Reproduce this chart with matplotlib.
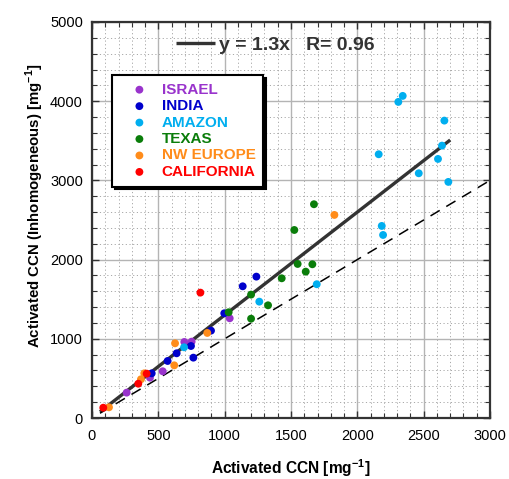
import matplotlib
matplotlib.use("Agg")
import matplotlib.pyplot as plt
import numpy as np
from matplotlib.ticker import MultipleLocator

plt.rcParams['font.family'] = ['Liberation Sans', 'DejaVu Sans']
plt.rcParams['mathtext.fontset'] = 'custom'
plt.rcParams['mathtext.rm'] = 'Liberation Sans:bold'
plt.rcParams['mathtext.bf'] = 'Liberation Sans:bold'

groups = ['ISRAEL', 'INDIA', 'AMAZON', 'TEXAS', 'NW EUROPE', 'CALIFORNIA']
colors = ['#9933CC', '#0000CC', '#00AEEF', '#0A7D0A', '#FF8C1A', '#FF0000']

israel_x = [261, 437, 533, 696, 751, 1038]
israel_y = [320, 509, 590, 960, 964, 1259]
india_x = [450, 570, 638, 746, 764, 897, 997, 1136, 1239]
india_y = [564, 720, 817, 909, 762, 1103, 1322, 1663, 1785]
amazon_x = [694, 1261, 1694, 2161, 2184, 2194, 2309, 2342, 2463, 2608, 2638, 2656, 2686]
amazon_y = [893, 1469, 1689, 3330, 2425, 2311, 3991, 4067, 3090, 3271, 3439, 3755, 2981]
texas_x = [1030, 1199, 1199, 1327, 1430, 1525, 1550, 1611, 1661, 1673]
texas_y = [1335, 1558, 1254, 1423, 1764, 2374, 1945, 1848, 1941, 2699]
europe_x = [128, 369, 394, 620, 626, 869, 1827]
europe_y = [135, 489, 564, 665, 943, 1074, 2564]
calif_x = [85, 349, 412, 817]
calif_y = [130, 433, 560, 1583]

xs = [israel_x, india_x, amazon_x, texas_x, europe_x, calif_x]
ys = [israel_y, india_y, amazon_y, texas_y, europe_y, calif_y]

fit_slope = 1.3
fit_range = [60, 2700]
one_to_one_range = [60, 3000]
fit_label = 'y = 1.3x   R= 0.96'

fig = plt.figure(figsize=(5.09, 4.79), dpi=100)
ax = fig.add_axes([92/509, 1-418/479, 398/509, 396/479])

ax.set_xlim(0, 3000)
ax.set_ylim(0, 5000)
ax.xaxis.set_major_locator(MultipleLocator(500))
ax.xaxis.set_minor_locator(MultipleLocator(100))
ax.yaxis.set_major_locator(MultipleLocator(1000))
ax.yaxis.set_minor_locator(MultipleLocator(200))
ax.grid(which='major', color='#b4b4b4', lw=1.0, ls='-', zorder=0)
ax.grid(which='minor', color='#a8a8a8', lw=0.7, ls=(0, (1.2, 2.6)), zorder=0)
ax.set_axisbelow(True)
ax.tick_params(which='both', direction='in', top=True, right=True, color='#333333')
ax.tick_params(which='major', length=5, width=1, labelsize=10.5)
ax.tick_params(which='minor', length=3.5, width=0.8)
ax.tick_params(axis='x', pad=8)
ax.tick_params(axis='y', pad=6.5)
for s in ax.spines.values():
    s.set_linewidth(1.6)
    s.set_color('#333333')

fx = np.array(fit_range, dtype=float)
fit_line, = ax.plot(fx, fit_slope * fx, color='#333333', lw=2.4, zorder=2, solid_capstyle='butt')
ox = np.array(one_to_one_range, dtype=float)
ax.plot(ox, ox, color='black', lw=1.1, ls=(0, (7, 5)), zorder=2)

handles = []
for g, c, x, y in zip(groups, colors, xs, ys):
    h = ax.scatter(x, y, s=32, color=c, edgecolors='none', zorder=3, label=g)
    handles.append(h)

leg = ax.legend(handles=handles, labels=groups, loc='upper left',
                bbox_to_anchor=(0.050, 0.866), borderaxespad=0,
                prop={'weight': 'bold', 'size': 11}, frameon=True, fancybox=False,
                edgecolor='black', framealpha=1, shadow={'color': 'black', 'alpha': 1},
                handlelength=2.6, handletextpad=0.15, labelspacing=0.16,
                borderpad=0.5, scatterpoints=1, markerscale=1.0)
leg.get_frame().set_linewidth(1.5)
for t, c in zip(leg.get_texts(), colors):
    t.set_color(c)
ax.add_artist(leg)

leg2 = ax.legend(handles=[fit_line], labels=[fit_label], loc='center left',
                 bbox_to_anchor=(0.211, 0.942), borderaxespad=0, borderpad=0,
                 frameon=False, handlelength=2.0, handletextpad=0.2,
                 prop={'weight': 'bold', 'size': 14})
for t in leg2.get_texts():
    t.set_color('#333333')

ax.set_xlabel(r'Activated CCN [mg$^{\mathbf{-1}}$]', fontsize=11.2, fontweight='bold', labelpad=10)
fig.text(35/509, 1-206/479, r'Activated CCN (Inhomogeneous) [mg$^{\mathbf{-1}}$]',
         rotation=90, ha='center', va='center', fontsize=10.8, fontweight='bold')

fig.savefig('out.png', dpi=100)
